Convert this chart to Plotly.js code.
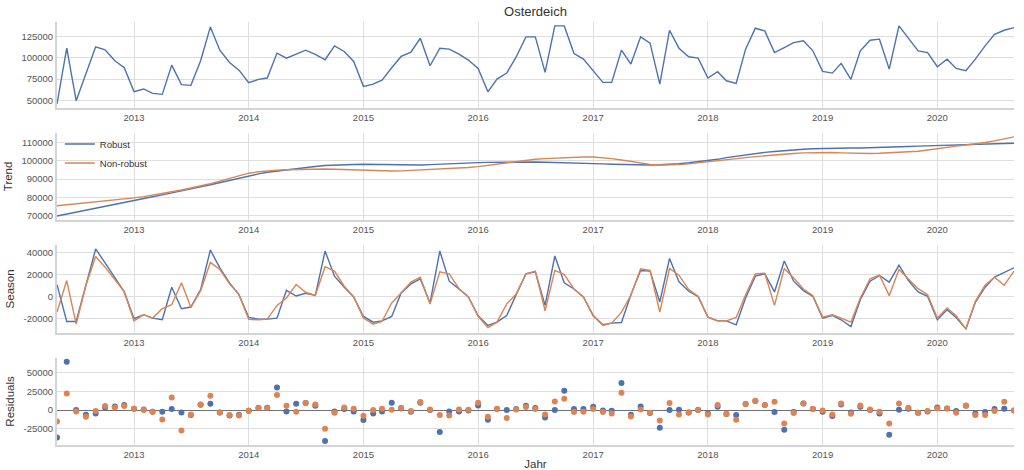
<!DOCTYPE html>
<html>
<head>
<meta charset="utf-8">
<script src="https://cdn.plot.ly/plotly-3.0.1.min.js"></script>
<style>html,body{margin:0;padding:0;background:#fff;}#chart{width:1024px;height:470px;}</style>
</head>
<body>
<div id="chart"></div>
<script>
// Monthly series, first month 2012-05, last month 2020-09
const FIRST_MONTH = [2012, 5];
const N_MONTHS = 101;

const observed = [45700,111300,49600,80000,112900,109400,96500,88300,60200,63300,58200,57000,91400,68400,67600,96500,136300,109000,94500,85500,
70700,74600,76200,105500,99600,104300,109000,103900,97700,114100,107400,95700,66400,69100,73800,88300,101600,106600,123000,90600,
111300,110200,104300,97300,87500,60000,75000,82000,101000,124600,124600,82800,137500,137500,105000,98400,84800,71100,71100,109000,
92600,124600,117200,69100,132400,111300,101200,99600,76200,83600,73000,69900,110200,134800,131600,106200,112100,117900,119900,108200,
84000,82000,93400,74600,108200,120700,121900,86700,137500,123000,108200,106200,89500,98400,87500,84800,98400,114100,127700,132400,135500];

const trendRobust = [69800,70900,72000,73000,74100,75100,76200,77200,78300,79300,80300,81300,82300,83400,84600,85700,86900,88100,89400,90600,
91800,92800,93700,94400,95000,95700,96300,96900,97400,97700,97900,98000,98100,98000,97900,97800,97700,97600,97700,97900,
98200,98500,98700,98900,99000,99100,99200,99300,99400,99400,99300,99200,99100,98900,98800,98600,98500,98300,98100,97900,
97800,97700,97700,97800,98000,98400,98900,99400,100000,100800,101700,102500,103300,104000,104600,105100,105600,106000,106300,106600,
106800,106900,106900,107000,107000,107100,107200,107400,107600,107800,108000,108200,108400,108600,108700,108900,109000,109200,109300,109500,109600];

const trendNonRobust = [75400,75900,76500,77000,77600,78100,78600,79200,79700,80400,81200,82000,83000,84000,85100,86200,87500,88900,90400,91900,
93200,94000,94500,94900,95100,95300,95400,95500,95500,95400,95200,95000,94700,94500,94400,94400,94500,94700,95000,95200,
95400,95600,95900,96300,96800,97500,98200,99000,99700,100300,100800,101200,101500,101800,102000,102100,102100,101800,101200,100400,
99500,98700,98000,97700,97700,97900,98300,98800,99300,99900,100500,101100,101700,102300,102800,103300,103700,104000,104300,104500,
104600,104500,104300,104100,104000,104000,104100,104300,104500,104700,105200,105900,106700,107400,108000,108600,109200,110000,110900,112000,113100];

const seasonRobust = [10700,-23000,-23000,10700,43200,30600,16800,4000,-20500,-16800,-19900,-21400,8300,-11300,-9800,6100,42300,26000,12300,1500,
-19300,-20800,-20800,-19900,5500,300,2800,900,41300,18400,8300,-600,-18400,-23600,-22400,-18400,3100,11300,15900,-6100,
41300,13800,6700,-600,-17800,-26600,-23600,-17500,1500,20500,22400,-8300,36800,12300,6700,-600,-17500,-26000,-24500,-23900,
1500,23600,23000,-5200,34600,13200,4600,-300,-19000,-22400,-22400,-26000,-1500,18400,20500,4000,32200,13800,5200,0,
-19900,-17500,-21400,-27600,-3100,13800,19000,12900,28500,14400,4000,0,-21400,-12300,-19300,-29700,-5500,8300,17500,21400,26000];

const seasonNonRobust = [-14400,14400,-25400,10100,36400,26600,15300,4000,-22400,-16800,-19900,-11300,-7700,12300,-10100,5200,30900,24500,11300,1500,
-21100,-21400,-20800,-8300,-1500,10700,3700,900,27000,23000,9200,-600,-19900,-25400,-23000,-6100,3100,12900,17500,-7000,
22400,20500,7000,-600,-18400,-28500,-23600,-7000,2100,20500,23000,-13200,23600,19900,6700,-600,-17800,-26600,-24500,-14400,
900,25100,23600,-14400,25400,19300,6100,0,-19000,-22400,-22400,-19300,1500,20500,21100,-8300,25400,16800,6700,600,
-19000,-16800,-19900,-23600,-1500,15900,19300,600,24500,15900,7000,1500,-19900,-10700,-17800,-29700,-4600,10100,17500,10100,23000];

const residRobust = [-36600,64700,0,-6300,-4500,3600,4900,6700,1800,900,-2200,-2200,1300,-3100,-6700,7100,8500,-3100,-7100,-6300,
-900,2700,3100,30400,-1800,8500,9400,5800,-41500,-1800,1300,-1800,-13400,-4500,-1800,9800,2200,-2200,9800,0,
-29500,-1800,-1800,-400,6300,-12900,1300,0,1300,5800,2700,-9800,0,25900,1300,1300,4500,-400,-900,36200,
-6300,4900,-4000,-23700,0,400,-3100,0,-4500,4500,-5400,-6700,8000,12100,6700,-2700,-26300,-2700,8900,1300,
-2200,-8000,7600,-3100,4500,0,-4500,-33000,400,1800,-3600,-1800,3600,2200,-1300,5800,-4500,-2700,1300,1800,-400];

const residNonRobust = [-15200,22300,-1800,-8900,-1300,5400,3600,5400,1800,0,-2200,-12500,17000,-27200,-5800,7600,19200,-3100,-6700,-7100,
-900,3100,3100,20100,5800,-2200,9400,7600,-25000,-3600,3600,1800,-7600,0,1800,400,3100,-1300,10700,900,
-6700,-7100,900,400,9800,-8900,1300,-10700,900,4000,1300,-5800,11600,15200,-2700,-2200,1300,-2700,-4500,23200,
-8500,900,-3600,-13800,9400,-5800,-3100,300,-5800,6700,-5400,-12900,8000,12500,6700,11200,-17900,-4000,8900,1300,
-400,-5800,8900,-4900,6300,900,-2200,-17900,8900,3100,-3600,-1300,2200,2200,-3600,6300,-6700,-6700,-1300,11200,-400];

const seriesNames = ['Robust', 'Non-robust'];
const chartTitle = 'Osterdeich';
const panelTitles = ['', 'Trend', 'Season', 'Residuals'];
const xTitle = 'Jahr';

// month axis
const months = [];
for (let k = 0; k < N_MONTHS; k++) {
  const m0 = FIRST_MONTH[1] - 1 + k;
  const y = FIRST_MONTH[0] + Math.floor(m0 / 12);
  const m = (m0 % 12) + 1;
  months.push(y + '-' + String(m).padStart(2, '0') + '-01');
}

const BLUE = '#4C72B0', ORANGE = '#DD8452';
const GRID = '#dedede', SPINE = '#d4d4d4', TICK = '#555555';
const FONT = 'Liberation Sans, Arial, sans-serif';

const traces = [
  {x: months, y: observed, xaxis: 'x', yaxis: 'y', type: 'scatter', mode: 'lines',
   line: {color: BLUE, width: 1.4}, showlegend: false},
  {x: months, y: trendRobust, xaxis: 'x2', yaxis: 'y2', type: 'scatter', mode: 'lines',
   name: seriesNames[0], line: {color: BLUE, width: 1.4}},
  {x: months, y: trendNonRobust, xaxis: 'x2', yaxis: 'y2', type: 'scatter', mode: 'lines',
   name: seriesNames[1], line: {color: ORANGE, width: 1.4}},
  {x: months, y: seasonRobust, xaxis: 'x3', yaxis: 'y3', type: 'scatter', mode: 'lines',
   line: {color: BLUE, width: 1.4}, showlegend: false},
  {x: months, y: seasonNonRobust, xaxis: 'x3', yaxis: 'y3', type: 'scatter', mode: 'lines',
   line: {color: ORANGE, width: 1.4}, showlegend: false},
  {x: months, y: residRobust, xaxis: 'x4', yaxis: 'y4', type: 'scatter', mode: 'markers',
   marker: {color: BLUE, size: 6}, showlegend: false},
  {x: months, y: residNonRobust, xaxis: 'x4', yaxis: 'y4', type: 'scatter', mode: 'markers',
   marker: {color: ORANGE, size: 6}, showlegend: false}
];

function xax(anchor, title) {
  const a = {
    type: 'date', anchor: anchor, range: [months[0], months[N_MONTHS - 1]],
    tick0: '2013-01-01', dtick: 'M12', tickformat: '%Y',
    showgrid: true, gridcolor: GRID, gridwidth: 1,
    showline: true, linecolor: SPINE, linewidth: 2, mirror: false,
    ticks: '', tickfont: {family: FONT, size: 9.5, color: TICK},
    zeroline: false, fixedrange: true
  };
  if (title) a.title = {text: title, font: {family: FONT, size: 11.5, color: '#333'}, standoff: 2};
  return a;
}
function yax(anchor, domain, range, tickvals, title) {
  return {
    anchor: anchor, domain: domain, range: range,
    tickmode: 'array', tickvals: tickvals, ticktext: tickvals.map(v => String(v)),
    showgrid: true, gridcolor: GRID, gridwidth: 1,
    showline: true, linecolor: SPINE, linewidth: 2,
    ticks: '', tickfont: {family: FONT, size: 9.5, color: TICK},
    zeroline: false, fixedrange: true,
    title: {text: title, font: {family: FONT, size: 11.5, color: '#333'}, standoff: 6}
  };
}

const layout = {
  width: 1024, height: 470,
  margin: {l: 57, r: 10, t: 22, b: 25},
  paper_bgcolor: '#ffffff', plot_bgcolor: '#ffffff',
  font: {family: FONT, color: '#333'},
  title: {text: chartTitle, x: 0.5, xref: 'paper', y: 0.975, yanchor: 'middle',
          font: {family: FONT, size: 13, color: '#333'}},
  showlegend: true,
  legend: {x: 0.003, y: 0.746, xanchor: 'left', yanchor: 'top', bgcolor: 'rgba(255,255,255,0)',
           font: {family: FONT, size: 9.5, color: '#333'},
           tracegroupgap: 0, itemwidth: 30},
  xaxis: xax('y'),
  xaxis2: xax('y2'),
  xaxis3: xax('y3'),
  xaxis4: xax('y4', xTitle),
  yaxis: yax('x', [0.797, 1], [41100, 142100], [50000, 75000, 100000, 125000], panelTitles[0]),
  yaxis2: yax('x2', [0.532, 0.738], [67600, 115300], [70000, 80000, 90000, 100000, 110000], panelTitles[1]),
  yaxis3: yax('x3', [0.265, 0.473], [-33400, 46900], [-20000, 0, 20000, 40000], panelTitles[2]),
  yaxis4: yax('x4', [0, 0.206], [-46800, 70000], [-25000, 0, 25000, 50000], panelTitles[3])
};
layout.yaxis4.zeroline = true;
layout.yaxis4.zerolinecolor = '#707070';
layout.yaxis4.zerolinewidth = 1.1;

Plotly.newPlot('chart', traces, layout, {displayModeBar: false, staticPlot: true});
</script>
</body>
</html>
